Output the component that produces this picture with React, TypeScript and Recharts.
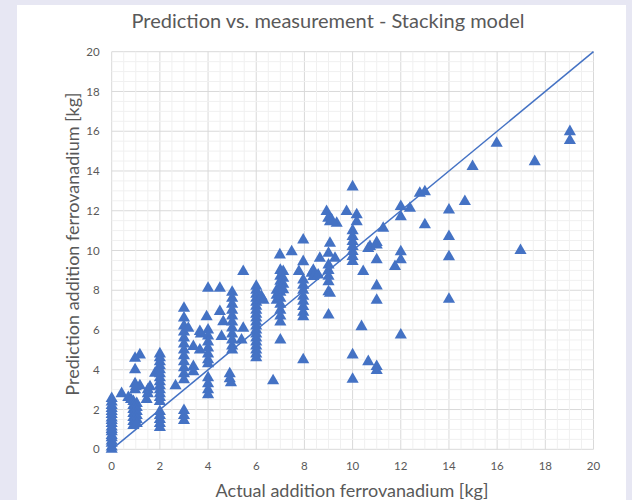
import React from "react";
import {
  ScatterChart,
  Scatter,
  XAxis,
  YAxis,
  ZAxis,
  CartesianGrid,
  ReferenceLine,
} from "recharts";

// Actual addition ferrovanadium [kg] (x) and predicted addition [kg] (y)
const actualKg: number[] = [
  0, 0, 0, 0, 0, 0, 0, 0, 0, 0, 0, 0, 0, 0, 0, 0, 0, 0,
  0.41, 0.69, 0.8,
  0.9, 0.9, 0.9, 0.9, 0.9, 0.9, 0.9,
  1.04, 1.04, 1.04, 1.04, 1.04, 1.04,
  0.97, 0.97, 0.97, 0.97, 1.17, 1.17, 1.0,
  1.45, 1.5, 1.5, 1.59, 1.8,
  2, 2, 2, 2, 2, 2, 2, 2, 2, 2, 2, 2, 2, 2, 2, 2, 2, 2,
  2.65,
  3, 3, 3, 3, 3, 3, 3, 3, 3, 3, 3, 3, 3, 3, 3,
  3.18, 3.39, 3.39, 3.39, 3.66, 3.66, 3.7, 3.94,
  4, 4, 4, 4, 4, 4, 4, 4, 4, 4, 4, 4,
  4.49, 4.49, 4.63, 4.56,
  4.9, 4.9, 4.95,
  5, 5, 5, 5, 5, 5, 5, 5, 5, 5, 5,
  5.46, 5.46, 5.39,
  6, 6, 6, 6, 6, 6, 6, 6, 6, 6, 6, 6, 6, 6, 6, 6, 6, 6, 6,
  6.22, 6.3, 6.7,
  6.85, 6.85, 6.85,
  7, 7, 7, 7, 7, 7, 7, 7, 7, 7, 7, 6.98,
  7.12, 7.12, 7.12, 7.12,
  7.47, 7.77,
  7.95, 7.95, 7.95, 7.95, 7.95, 7.95, 7.95, 7.95, 7.95, 7.95, 7.95,
  8.3, 8.37, 8.37, 8.57, 8.64,
  8.92, 8.99, 9.06, 9, 9, 9, 9, 9, 9, 9, 9.06, 9.06,
  9.27, 9.34, 9.13, 9.75,
  10, 10, 10, 10, 10, 10, 10, 10, 10, 10,
  10.17, 10.17,
  10.37, 10.44, 10.65, 10.65, 10.72,
  11, 11, 11, 11, 11, 11, 11,
  11.27, 11.76,
  12, 12, 12, 12, 12,
  12.38, 12.79, 13.0, 13.0,
  14, 14, 14, 14,
  14.66, 14.98, 15.98, 16.97, 17.56, 19.02, 19.02,
];

const predictedKg: number[] = [
  0, 0.12, 0.3, 0.42, 0.58, 0.7, 0.88, 1.0, 1.12, 1.3, 1.45, 1.58, 1.75, 1.9, 2.05, 2.2, 2.38, 2.55,
  2.8, 2.6, 2.5,
  2.4, 2.2, 2.0, 1.8, 1.6, 1.4, 1.2,
  2.3, 2.1, 1.9, 1.7, 1.5, 1.3,
  4.58, 4.0, 3.3, 3.0, 4.75, 3.2, 3.15,
  2.5, 2.8, 3.0, 3.15, 3.83,
  4.8, 4.6, 4.4, 4.2, 4.0, 3.8, 3.6, 3.4, 3.2, 3.0, 2.8, 2.6, 2.4, 1.9, 1.7, 1.5, 1.3, 1.1,
  3.2,
  7.1, 6.6, 6.2, 5.9, 5.6, 5.3, 5.0, 4.7, 4.4, 4.1, 3.8, 3.5, 1.95, 1.7, 1.45,
  6.09, 5.17, 4.16, 3.9, 5.92, 5.0, 5.8, 6.67,
  8.1, 6.0, 5.7, 5.4, 5.1, 4.8, 4.5, 4.3, 3.6, 3.3, 3.0, 2.75,
  8.1, 6.93, 6.42, 5.67,
  3.8, 3.55, 3.35,
  7.9, 7.6, 7.3, 7.0, 6.7, 6.4, 6.1, 5.8, 5.5, 5.2, 5.0,
  8.94, 6.09, 5.5,
  8.2, 8.0, 7.8, 7.6, 7.4, 7.2, 7.0, 6.8, 6.6, 6.4, 6.2, 6.0, 5.8, 5.6, 5.4, 5.2, 5.0, 4.8, 4.6,
  7.68, 7.5, 3.45,
  8.0, 7.75, 7.5,
  9.0, 8.7, 8.45, 8.2, 7.9, 7.6, 7.3, 7.0, 6.7, 6.4, 5.5, 9.78,
  8.94, 8.6, 8.3, 8.02,
  9.94, 8.94,
  10.53, 9.44, 8.52, 8.25, 8.0, 7.7, 7.45, 7.18, 6.9, 6.67, 4.5,
  8.86, 9.0, 8.69, 8.77, 9.61,
  11.96, 11.62, 10.37, 9.86, 9.27, 9.0, 8.7, 8.43, 7.93, 6.76, 11.45, 7.85,
  9.61, 11.37, 11.54, 11.96,
  13.2, 11.0, 10.7, 10.45, 10.2, 9.95, 9.7, 9.45, 4.75, 3.52,
  11.8, 11.45,
  6.17, 8.94, 10.1, 4.41, 10.2,
  10.28, 9.53, 8.22, 7.5, 4.16, 3.96, 10.4,
  11.12, 9.19,
  12.21, 11.7, 9.94, 9.53, 5.75,
  12.13, 12.88, 12.96, 11.29,
  12.04, 10.7, 9.69, 7.55,
  12.46, 14.22, 15.4, 10.0, 14.47, 15.98, 15.53,
];

const axisTicks: number[] = [0, 2, 4, 6, 8, 10, 12, 14, 16, 18, 20];
const minorGridValues: number[] = [
  0.5, 1, 1.5, 2.5, 3, 3.5, 4.5, 5, 5.5, 6.5, 7, 7.5, 8.5, 9, 9.5,
  10.5, 11, 11.5, 12.5, 13, 13.5, 14.5, 15, 15.5, 16.5, 17, 17.5, 18.5, 19, 19.5,
];
const identityLine = [
  { x: 0, y: 0 },
  { x: 20, y: 20 },
];

const points = actualKg.map((x, i) => ({ x, y: predictedKg[i] }));

const BLUE = "#4472c4";
const TEXT = "#595959";
const FONT = "Lato, 'Open Sans', sans-serif";

export default function App() {
  return (
    <div
      style={{
        position: "absolute",
        left: 0,
        top: 0,
        width: 632,
        height: 500,
        background: "#e7e7f3",
        overflow: "hidden",
        fontFamily: FONT,
      }}
    >
      <div
        style={{
          position: "absolute",
          left: 17,
          top: 5,
          width: 609,
          height: 495,
          background: "#ffffff",
        }}
      >
        <ScatterChart
          width={609}
          height={495}
          margin={{ top: 46.7, right: 32.5, left: 54.7, bottom: 20.7 }}
        >
          <CartesianGrid stroke="#d9d9d9" strokeWidth={1} />
          {minorGridValues.map((v) => (
            <ReferenceLine key={"mx" + v} x={v} stroke="#f0f0f0" strokeWidth={1} />
          ))}
          {minorGridValues.map((v) => (
            <ReferenceLine key={"my" + v} y={v} stroke="#f0f0f0" strokeWidth={1} />
          ))}
          <XAxis
            type="number"
            dataKey="x"
            domain={[0, 20]}
            ticks={axisTicks}
            axisLine={false}
            tickLine={false}
            tickSize={6}
            tickMargin={7}
            height={30}
            tick={{ fill: TEXT, fontSize: 11.5, fontFamily: FONT }}
          />
          <YAxis
            type="number"
            dataKey="y"
            domain={[0, 20]}
            ticks={axisTicks}
            axisLine={false}
            tickLine={false}
            tickSize={6}
            tickMargin={6}
            width={40}
            tick={{ fill: TEXT, fontSize: 11.5, fontFamily: FONT }}
          />
          <ZAxis range={[52, 52]} />
          <ReferenceLine
            segment={identityLine}
            stroke={BLUE}
            strokeWidth={1.5}
          />
          <Scatter
            data={points}
            fill={BLUE}
            shape="triangle"
            isAnimationActive={false}
          />
        </ScatterChart>
      </div>
      <div
        style={{
          position: "absolute",
          left: 128,
          top: 10,
          width: 400,
          textAlign: "center",
          fontSize: 20,
          lineHeight: "20px",
          color: TEXT,
          whiteSpace: "nowrap",
        }}
      >
        Prediction vs. measurement - Stacking model
      </div>
      <div
        style={{
          position: "absolute",
          left: 152,
          top: 481,
          width: 400,
          textAlign: "center",
          fontSize: 18,
          lineHeight: "18px",
          color: TEXT,
          whiteSpace: "nowrap",
        }}
      >
        Actual addition ferrovanadium [kg]
      </div>
      <div
        style={{
          position: "absolute",
          left: 72 - 200,
          top: 244 - 9,
          width: 400,
          height: 18,
          textAlign: "center",
          fontSize: 18,
          lineHeight: "18px",
          color: TEXT,
          whiteSpace: "nowrap",
          transform: "rotate(-90deg)",
        }}
      >
        Prediction addition ferrovanadium [kg]
      </div>
    </div>
  );
}
